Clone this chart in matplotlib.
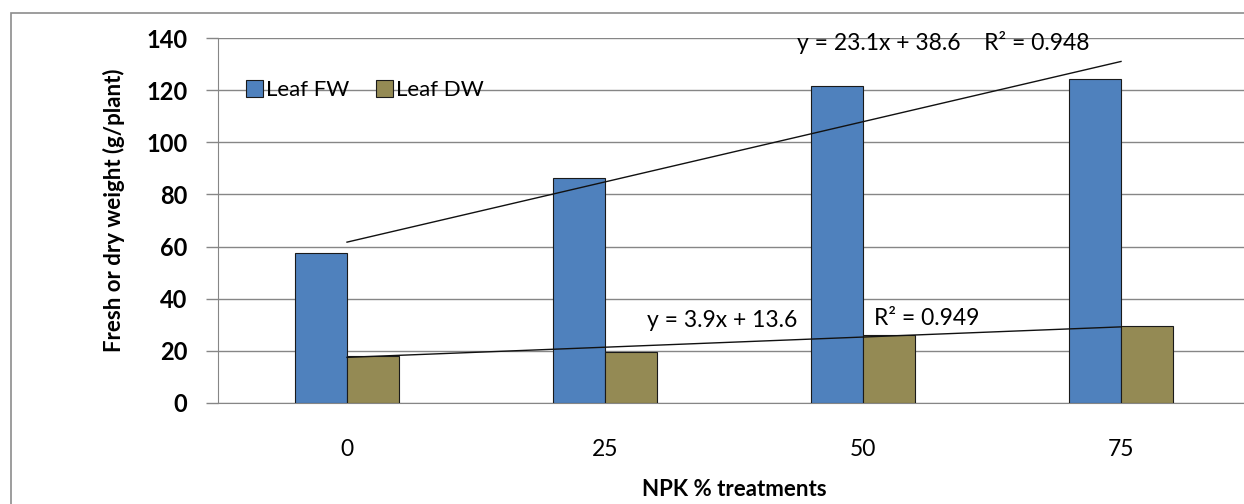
import matplotlib
matplotlib.use("Agg")
import matplotlib.pyplot as plt
from matplotlib.patches import Rectangle
import numpy as np

categories = ["0", "25", "50", "75"]
leaf_fw = [57.5, 86.3, 121.6, 124.3]
leaf_dw = [18.1, 19.6, 26.1, 29.5]
fw_trend = (23.1, 38.6)   # slope, intercept (x = 1..4)
dw_trend = (3.9, 13.6)
fw_eq = "y = 23.1x + 38.6    R² = 0.948"
dw_eq = "y = 3.9x + 13.6"
dw_r2 = "R² = 0.949"
yticks = [0, 20, 40, 60, 80, 100, 120, 140]

plt.rcParams['font.family'] = ['Lato', 'DejaVu Sans']

fig = plt.figure(figsize=(12.44, 5.04), dpi=100)
fig.patch.set_facecolor("white")
fig.patches.append(Rectangle((11/1244, -0.1), 1.2, 0.1 + 1 - 13/504, transform=fig.transFigure,
                             fill=False, edgecolor="#8c8c8c", linewidth=1.2))

ax = fig.add_axes([218/1244, 1 - 403/504, 1032/1244, (403 - 38)/504])
x = np.arange(len(categories))
w = 0.2
ax.bar(x - w/2, leaf_fw, width=w, color="#4F81BD", edgecolor="#1a1a1a", linewidth=0.8,
       label="Leaf FW", zorder=3)
ax.bar(x + w/2, leaf_dw, width=w, color="#948A54", edgecolor="#1a1a1a", linewidth=0.8,
       label="Leaf DW", zorder=3)

xi = x + 1
ax.plot(x, fw_trend[0]*xi + fw_trend[1], color="#111111", linewidth=1.0, zorder=4)
ax.plot(x, dw_trend[0]*xi + dw_trend[1], color="#111111", linewidth=1.0, zorder=4)

ax.text(2.31, 138.3, fw_eq, ha="center", va="center", fontsize=16.5, zorder=5)
ax.text(1.453, 31.8, dw_eq, ha="center", va="center", fontsize=16.5, zorder=5)
ax.text(2.248, 32.6, dw_r2, ha="center", va="center", fontsize=16.5, zorder=5)

ax.set_xlim(-0.5, 3.5)
ax.set_ylim(0, 140)
ax.set_yticks(yticks)
ax.set_yticklabels([str(v) for v in yticks], fontsize=17, fontweight="bold")
ax.set_xticks(x)
ax.set_xticklabels(categories, fontsize=16.5)
ax.tick_params(axis="x", length=0, pad=26)
ax.tick_params(axis="y", length=9, width=1, color="#868686", pad=13)
ax.yaxis.grid(True, color="#868686", linewidth=1.0, zorder=0)
ax.set_axisbelow(True)
for s in ["top", "right"]:
    ax.spines[s].set_visible(False)
ax.spines["left"].set_color("#868686")
ax.spines["bottom"].set_color("#868686")

ax.set_ylabel("Fresh or dry weight (g/plant)", fontsize=16, fontweight="bold")
ax.yaxis.set_label_coords(-0.090, 0.529)
ax.set_xlabel("NPK % treatments", fontsize=16, fontweight="bold", va="center")
ax.xaxis.set_label_coords(0.5, -0.236)

leg = ax.legend(loc="center left", bbox_to_anchor=(0.012, 0.857), frameon=False,
                fontsize=16, handlelength=0.75, handleheight=0.75, handletextpad=0.15,
                ncol=2, columnspacing=1.2, borderpad=0.2)

fig.savefig("out.png", dpi=100)
